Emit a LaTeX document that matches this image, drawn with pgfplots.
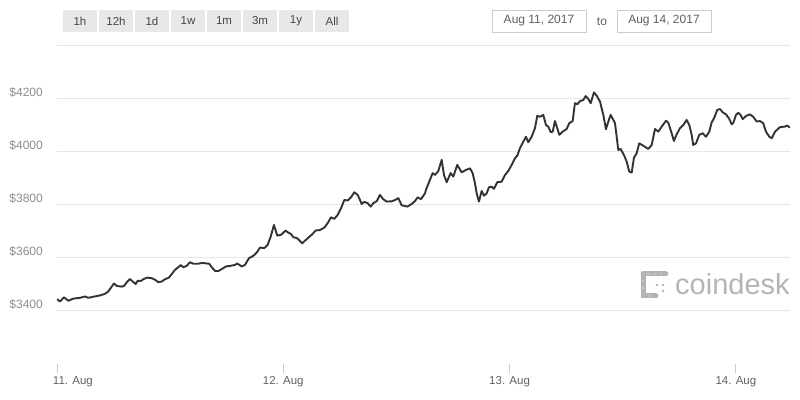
\documentclass[border=0pt]{standalone}
\usepackage{pgfplots}
\pgfplotsset{compat=1.18}
\usepackage{fontspec}
\setmainfont{Liberation Sans}
\definecolor{gridc}{HTML}{E6E6E6}
\definecolor{linec}{HTML}{333333}
\definecolor{ylab}{HTML}{8C8C8C}
\definecolor{xlab}{HTML}{606060}
\definecolor{btn}{HTML}{E8E8E8}
\definecolor{btntxt}{HTML}{444444}
\definecolor{boxc}{HTML}{CCCCCC}
\definecolor{logoc}{HTML}{B4B4B4}

% hours since 11 Aug 2017 00:00, price in USD
\pgfplotstableread{
h     price
0.0   3444
0.32  3435
0.74  3451
1.20  3438
1.73  3446
2.44  3449
2.97  3454
3.32  3449
3.85  3453
4.56  3458
5.09  3464
5.44  3473
5.80  3491
6.04  3503
6.33  3494
6.86  3491
7.11  3494
7.46  3510
7.74  3520
8.03  3510
8.35  3501
8.56  3513
8.88  3512
9.15  3519
9.58  3525
10.04 3523
10.39 3517
10.74 3508
11.10 3510
11.45 3519
11.88 3525
12.16 3538
12.51 3554
12.86 3564
13.12 3572
13.39 3564
13.75 3569
14.10 3583
14.45 3577
14.98 3577
15.35 3580
15.70 3579
16.15 3577
16.41 3564
16.76 3550
17.11 3550
17.47 3557
17.92 3567
18.53 3570
18.88 3573
19.12 3578
19.59 3567
19.94 3573
20.36 3598
20.82 3607
21.18 3619
21.53 3638
21.98 3636
22.34 3648
22.66 3679
23.01 3723
23.36 3683
23.76 3686
24.25 3702
24.53 3694
24.82 3689
25.06 3677
25.42 3674
25.66 3667
26.01 3654
26.30 3664
26.72 3677
27.07 3688
27.43 3702
27.89 3704
28.35 3713
28.71 3730
29.06 3752
29.41 3746
29.77 3761
30.12 3786
30.47 3817
30.83 3815
31.18 3827
31.53 3846
31.89 3836
32.10 3820
32.31 3802
32.59 3810
32.95 3805
33.27 3792
33.54 3805
33.90 3812
34.25 3836
34.60 3820
34.96 3811
35.50 3812
35.85 3817
36.20 3824
36.55 3797
36.83 3795
37.15 3792
37.62 3802
37.97 3813
38.25 3827
38.60 3820
39.03 3842
39.13 3855
39.48 3886
39.84 3918
40.09 3911
40.44 3926
40.80 3968
41.04 3911
41.33 3884
41.75 3918
42.03 3905
42.45 3949
42.92 3921
43.37 3930
43.80 3936
44.08 3918
44.33 3880
44.51 3842
44.75 3811
45.04 3851
45.28 3833
45.57 3842
45.81 3865
46.10 3867
46.34 3859
46.70 3884
47.16 3886
47.51 3911
47.86 3926
48.22 3949
48.57 3974
48.82 3984
49.10 4012
49.45 4036
49.74 4055
49.98 4034
50.34 4055
50.69 4087
50.94 4134
51.22 4130
51.57 4137
51.86 4099
52.10 4093
52.36 4072
52.57 4074
52.81 4114
53.06 4087
53.27 4062
53.63 4074
54.05 4084
54.33 4106
54.69 4114
54.93 4181
55.18 4177
55.46 4189
55.82 4193
56.07 4208
56.35 4197
56.60 4181
56.95 4222
57.24 4209
57.59 4187
57.94 4137
58.22 4083
58.47 4112
58.72 4137
59.18 4106
59.53 4005
59.78 4009
60.13 3986
60.42 3961
60.69 3924
60.95 3920
61.19 3976
61.48 3993
61.75 4030
62.18 4021
62.71 4009
63.07 4024
63.42 4084
63.77 4074
64.13 4093
64.59 4115
64.83 4108
65.19 4068
65.43 4039
65.72 4064
66.07 4087
66.42 4099
66.78 4118
67.06 4099
67.31 4062
67.48 4024
67.77 4030
68.12 4062
68.48 4068
68.83 4055
69.18 4074
69.43 4109
69.68 4124
70.03 4156
70.31 4159
70.60 4147
70.95 4139
71.30 4122
71.55 4102
71.72 4106
72.01 4137
72.25 4145
72.50 4137
72.72 4121
73.07 4133
73.49 4139
73.84 4130
74.20 4112
74.55 4114
74.90 4106
75.19 4074
75.54 4055
75.80 4049
76.15 4074
76.68 4091
77.20 4093
77.45 4097
77.73 4089
}\pricedata

\begin{document}
\begin{tikzpicture}
\path[use as bounding box] (-57bp,-36bp) rectangle (743bp,364bp);
\begin{axis}[
  at={(0,0)}, anchor=south west,
  scale only axis, width=733bp, height=319bp,
  xmin=0, xmax=77.74, ymin=3200, ymax=4400,
  axis line style={draw=none},
  xtick={0,24,48,72},
  xticklabels={\makebox[0pt][l]{\hspace{-4bp}11. Aug},12. Aug,13. Aug,14. Aug},
  ytick={3400,3600,3800,4000,4200},
  yticklabels={\$3400,\$3600,\$3800,\$4000,\$4200},
  ymajorgrids, grid style={draw=gridc, line width=0.9bp},
  tick pos=left, xtick align=outside, major tick length=9bp,
  xtick style={draw=boxc, line width=0.9bp},
  ytick style={draw=none},
  xticklabel style={font=\fontsize{11.5bp}{13bp}\selectfont, text=xlab, anchor=north, inner sep=0pt, yshift=-3bp},
  yticklabel style={font=\fontsize{12bp}{14bp}\selectfont, text=ylab, anchor=east, inner sep=0pt, xshift=-14bp, yshift=6bp},
]
\addplot[draw=linec, line width=1.9bp, line join=round, mark=none] table[x=h, y=price] {\pricedata};
\end{axis}

\begin{scope}[x=1bp, y=-1bp, shift={(-57bp,364bp)}]
  % top gridline ($4400, unlabelled)
  \draw[gridc, line width=0.9bp] (57,45) -- (790,45);
  % range buttons
  \foreach \a/\b/\t in {63/97/1h, 99/133/12h, 135/169/1d, 171/205/1w, 207/241/1m, 243/277/3m, 279/313/1y, 315/349/All}{
    \fill[btn] (\a,10) rectangle (\b,32);
    \node[text=btntxt, font=\fontsize{11.5bp}{13bp}\selectfont, inner sep=0pt] at ({(\a+\b)/2},21) {\t};
  }
  % date range boxes
  \draw[boxc, line width=0.8bp, fill=white] (492,10) rectangle (586,32);
  \node[text=xlab, font=\fontsize{12bp}{14bp}\selectfont, inner sep=0pt] at (539,21) {Aug 11, 2017};
  \node[text=xlab, font=\fontsize{12bp}{14bp}\selectfont, inner sep=0pt] at (602,21.5) {to};
  \draw[boxc, line width=0.8bp, fill=white] (617,10) rectangle (711,32);
  \node[text=xlab, font=\fontsize{12bp}{14bp}\selectfont, inner sep=0pt] at (664,21) {Aug 14, 2017};
  % coindesk logo
  \draw[logoc, line width=5bp, line cap=round] (643,274) -- (666,274);
  \draw[logoc, line width=5bp, line cap=round] (643,274) -- (643,296) -- (656,296);
  \foreach \p in {(648,274),(655,274),(661,274),(643,281),(643,288),(649,296)}
    \fill[white] \p circle (0.7bp);
  \foreach \p in {(657,285),(663,285),(663,291)}
    \fill[logoc] \p circle (1.3bp);
  \node[text=logoc, font=\fontsize{29bp}{32bp}\selectfont, anchor=base west, inner sep=0pt] at (675,295) {coindesk};
\end{scope}
\end{tikzpicture}
\end{document}
